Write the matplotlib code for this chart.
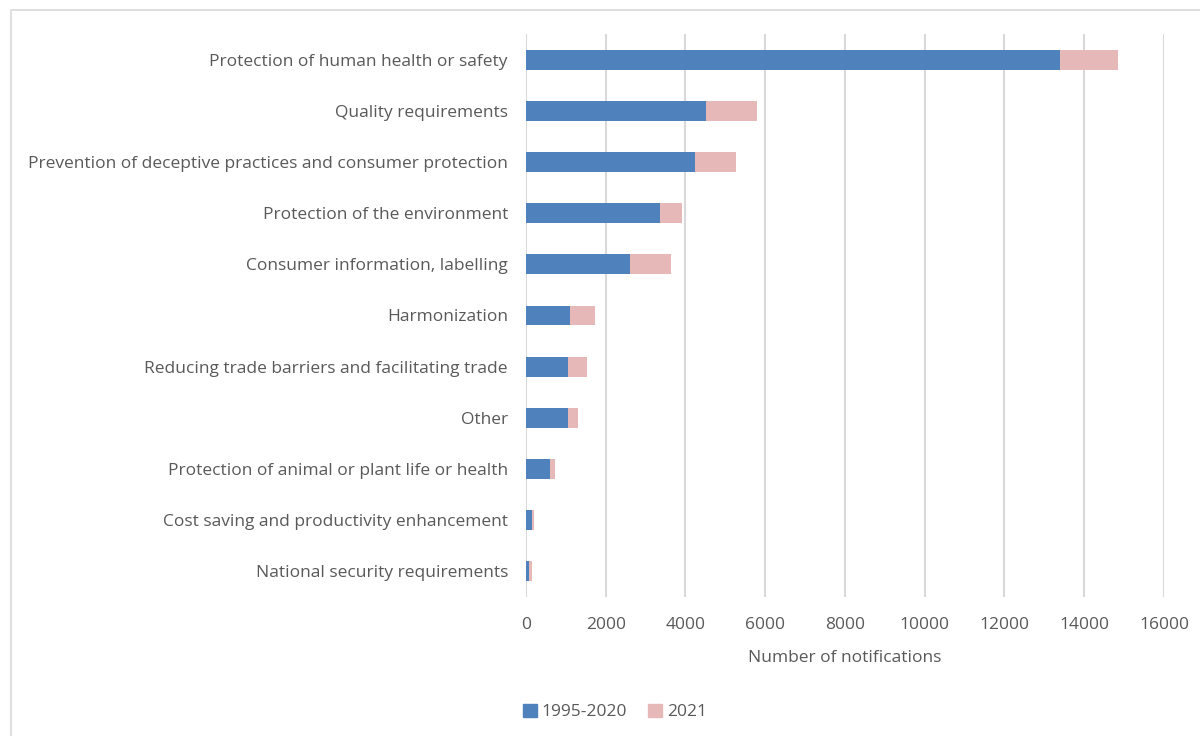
import matplotlib.pyplot as plt
import matplotlib.patches as mpatches
import numpy as np

# --- Data ---
categories = [
    "Protection of human health or safety",
    "Quality requirements",
    "Prevention of deceptive practices and consumer protection",
    "Protection of the environment",
    "Consumer information, labelling",
    "Harmonization",
    "Reducing trade barriers and facilitating trade",
    "Other",
    "Protection of animal or plant life or health",
    "Cost saving and productivity enhancement",
    "National security requirements",
]
notif_1995_2020 = [13400, 4520, 4240, 3370, 2610, 1105, 1045, 1055, 605, 150, 85]
notif_2021 = [1450, 1280, 1020, 545, 1025, 630, 490, 245, 125, 50, 57]

blue = "#4F81BD"
pink = "#E6B9B8"
text_col = "#595959"
grid_col = "#D9D9D9"

plt.rcParams["font.family"] = ["Open Sans", "DejaVu Sans"]

fig = plt.figure(figsize=(12, 7.36), dpi=100)
ax = fig.add_axes([0.4383, 0.1894, 0.5317, 0.7639])

# chart-area border
fig.patches.append(mpatches.Rectangle((11 / 1200, -0.01), 1.0, 1 - 10 / 736 + 0.01,
                                      transform=fig.transFigure, fill=False,
                                      edgecolor=grid_col, linewidth=1.2))

y = np.arange(len(categories))
bar_h = 0.39
ax.barh(y, notif_1995_2020, height=bar_h, color=blue, label="1995-2020", zorder=3)
ax.barh(y, notif_2021, left=notif_1995_2020, height=bar_h, color=pink, label="2021", zorder=3)

ax.set_ylim(len(categories) - 0.5, -0.5)
ax.set_xlim(0, 16000)
ax.set_xticks(np.arange(0, 16001, 2000))
ax.set_yticks(y)
ax.set_yticklabels(categories)

ax.grid(axis="x", color=grid_col, linewidth=1.5, zorder=0)
for s in ["top", "right", "bottom", "left"]:
    ax.spines[s].set_visible(False)
ax.tick_params(axis="both", length=0, colors=text_col, labelsize=12.5)
ax.tick_params(axis="y", pad=13)
ax.tick_params(axis="x", pad=15)
ax.set_xlabel("Number of notifications", color=text_col, fontsize=12.5, labelpad=12)

handles = [mpatches.Patch(color=blue, label="1995-2020"),
           mpatches.Patch(color=pink, label="2021")]
fig.legend(handles=handles, loc="center", bbox_to_anchor=(615 / 1200, 1 - 712 / 736),
           ncol=2, frameon=False, fontsize=12.5, labelcolor=text_col,
           handlelength=0.8, handleheight=0.8, handletextpad=0.3, columnspacing=1.2)

fig.savefig("out.png", dpi=100)
